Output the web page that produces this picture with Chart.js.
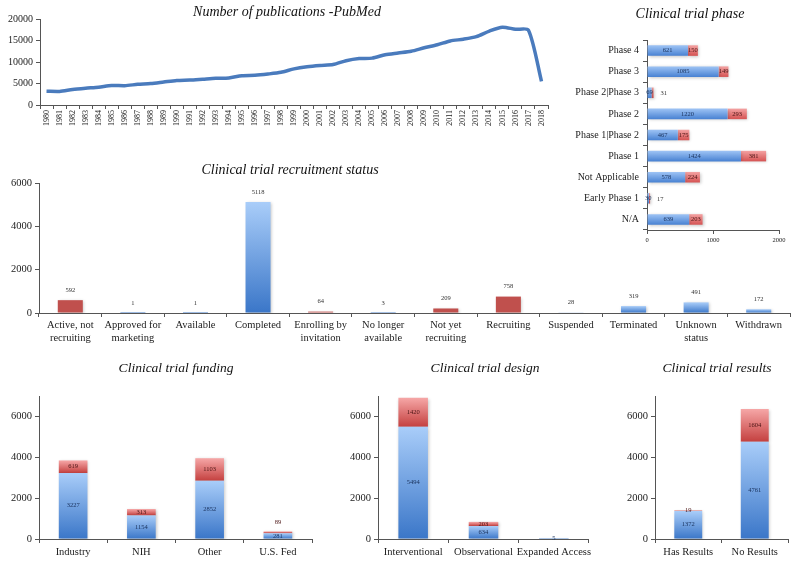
<!DOCTYPE html>
<html>
<head>
<meta charset="utf-8">
<script src="https://cdn.jsdelivr.net/npm/chart.js@4.4.0/dist/chart.umd.min.js"></script>
<style>
  html, body { margin: 0; padding: 0; background: #fff; }
  #wrap { position: relative; width: 798px; height: 565px; overflow: hidden; }
  canvas { position: absolute; }
</style>
</head>
<body>
<div id="wrap">
  <canvas id="pubs" width="560" height="135" style="left:0;top:0"></canvas>
  <canvas id="status" width="798" height="192" style="left:0;top:155px"></canvas>
  <canvas id="phase" width="233" height="250" style="left:565px;top:0"></canvas>
  <canvas id="funding" width="320" height="205" style="left:0;top:360px"></canvas>
  <canvas id="design" width="275" height="205" style="left:320px;top:360px"></canvas>
  <canvas id="results" width="203" height="205" style="left:595px;top:360px"></canvas>
</div>
<script>
// ---- data ----
const years = ['1980','1981','1982','1983','1984','1985','1986','1987','1988','1989',
  '1990','1991','1992','1993','1994','1995','1996','1997','1998','1999',
  '2000','2001','2002','2003','2004','2005','2006','2007','2008','2009',
  '2010','2011','2012','2013','2014','2015','2016','2017','2018'];
const pubCounts = [3200, 3150, 3600, 3900, 4150, 4550, 4500, 4800, 5000, 5350,
  5700, 5800, 6000, 6200, 6300, 6800, 6900, 7200, 7600, 8400,
  8900, 9200, 9400, 10300, 10800, 10900, 11700, 12100, 12500, 13300,
  14000, 14900, 15300, 15900, 17200, 18100, 17600, 17400, 5500];

const phaseLabels = ['Phase 4', 'Phase 3', 'Phase 2|Phase 3', 'Phase 2', 'Phase 1|Phase 2',
  'Phase 1', 'Not Applicable', 'Early Phase 1', 'N/A'];
const phaseBlue = [621, 1085, 69, 1220, 467, 1424, 578, 30, 639];
const phaseRed = [150, 149, 31, 293, 175, 381, 224, 17, 203];

const statusLabels = [['Active, not', 'recruiting'], ['Approved for', 'marketing'], 'Available', 'Completed',
  ['Enrolling by', 'invitation'], ['No longer', 'available'], ['Not yet', 'recruiting'], 'Recruiting',
  'Suspended', 'Terminated', ['Unknown', 'status'], 'Withdrawn'];
const statusCounts = [592, 1, 1, 5118, 64, 3, 209, 758, 28, 319, 491, 172];
const statusOngoing = [true, false, false, false, true, false, true, true, false, false, false, false];

const fundLabels = ['Industry', 'NIH', 'Other', 'U.S. Fed'];
const fundBlue = [3227, 1154, 2852, 281];
const fundRed = [619, 313, 1103, 89];

const designLabels = ['Interventional', 'Observational', 'Expanded Access'];
const designBlue = [5494, 634, 5];
const designRed = [1420, 203, 0];

const resultLabels = ['Has Results', 'No Results'];
const resultBlue = [1372, 4761];
const resultRed = [19, 1604];

// ---- helpers ----
const serif = "'Liberation Serif', 'Times New Roman', serif";
const BLUE_L = '#a9cdf9', BLUE_D = '#3a76c8';
const RED_L = '#f6a7a7', RED_D = '#c4403f';
const plain = { useGrouping: false };

const fixW = w => s => { s.width = w; };
const fixH = h => s => { s.height = h; };

// gradient for a vertical bar segment, light at the top, dark at the bottom
function vFill(light, dark) {
  return c => {
    if (c.type !== 'data') return dark;
    const chart = c.chart, y = chart.scales.y;
    let start = 0;
    if (chart.options.scales.y.stacked) {
      for (let d = 0; d < c.datasetIndex; d++) start += chart.data.datasets[d].data[c.dataIndex];
    }
    const top = y.getPixelForValue(start + c.raw), bot = y.getPixelForValue(start);
    if (!isFinite(top) || !isFinite(bot) || bot - top < 1) return dark;
    const g = chart.ctx.createLinearGradient(0, top, 0, bot);
    g.addColorStop(0, light);
    g.addColorStop(1, dark);
    return g;
  };
}

// gradient across the thickness of a horizontal bar
function hFill(light, dark) {
  return c => {
    if (c.type !== 'data') return dark;
    const y = c.chart.scales.y;
    const mid = y.getPixelForValue(c.dataIndex);
    if (!isFinite(mid)) return dark;
    const g = c.chart.ctx.createLinearGradient(0, mid - 5, 0, mid + 5);
    g.addColorStop(0, light);
    g.addColorStop(1, dark);
    return g;
  };
}

function axisCommon() {
  return {
    border: { color: '#555' },
    grid: { drawOnChartArea: false, color: '#555', tickLength: 4 }
  };
}

// italic chart heading drawn at a given spot of the canvas
const heading = {
  id: 'heading',
  afterDraw(chart, args, o) {
    if (!o || !o.text) return;
    const ctx = chart.ctx;
    ctx.save();
    ctx.font = 'italic ' + o.size + 'px ' + serif;
    ctx.fillStyle = '#111';
    ctx.textAlign = 'center';
    ctx.textBaseline = 'middle';
    ctx.fillText(o.text, o.x, o.y);
    ctx.restore();
  }
};

// soft drop shadow under bars
const shade = {
  id: 'shade',
  beforeDatasetDraw(chart, args, o) {
    if (!o || !o.on) return;
    const ctx = chart.ctx;
    ctx.save();
    ctx.shadowColor = 'rgba(0,0,0,0.22)';
    ctx.shadowBlur = 3;
    ctx.shadowOffsetX = 1;
    ctx.shadowOffsetY = 1;
  },
  afterDatasetDraw(chart, args, o) {
    if (!o || !o.on) return;
    chart.ctx.restore();
  }
};

// value labels on the bars
const barText = {
  id: 'barText',
  afterDatasetsDraw(chart, args, o) {
    if (!o || !o.mode) return;
    const ctx = chart.ctx;
    const ds = chart.data.datasets;
    ctx.save();
    ctx.font = o.size + 'px ' + serif;
    ctx.textAlign = 'center';
    ctx.textBaseline = 'middle';
    if (o.mode === 'above') {
      chart.getDatasetMeta(0).data.forEach((el, i) => {
        ctx.fillStyle = '#333';
        ctx.fillText(ds[0].data[i], el.x, el.y - 10);
      });
    } else if (o.mode === 'stack') {
      const lo = chart.getDatasetMeta(0).data, hi = chart.getDatasetMeta(1).data;
      lo.forEach((a, i) => {
        const b = hi[i];
        const ya = (a.y + a.base) / 2;
        let yb = (b.y + b.base) / 2;
        ctx.fillStyle = '#1c3560';
        ctx.fillText(ds[0].data[i], a.x, ya);
        if (ds[1].data[i]) {
          if (Math.abs(ya - yb) < 8) yb = b.y - 9;
          ctx.fillStyle = '#4a1414';
          ctx.fillText(ds[1].data[i], b.x, yb);
        }
      });
    } else if (o.mode === 'hstack') {
      const lo = chart.getDatasetMeta(0).data, hi = chart.getDatasetMeta(1).data;
      lo.forEach((a, i) => {
        const b = hi[i];
        ctx.textAlign = 'center';
        ctx.fillStyle = '#1c3560';
        ctx.fillText(ds[0].data[i], (a.x + a.base) / 2, a.y);
        const txt = String(ds[1].data[i]);
        const w = b.x - b.base;
        ctx.fillStyle = '#4a1414';
        if (w < 6) {
          ctx.textAlign = 'left';
          ctx.fillStyle = '#333';
          ctx.fillText(txt, b.x + 7, b.y + 1);
        } else {
          ctx.fillText(txt, (b.x + b.base) / 2, b.y);
        }
      });
    }
    ctx.restore();
  }
};

Chart.register(heading, shade, barText);
Chart.defaults.animation = false;
Chart.defaults.font.family = serif;
Chart.defaults.color = '#222';

const basePlugins = { legend: { display: false }, tooltip: { enabled: false } };

// ---- Number of publications (line) ----
new Chart(document.getElementById('pubs'), {
  type: 'line',
  data: {
    labels: years,
    datasets: [{
      data: pubCounts,
      borderColor: '#4a7bbd',
      borderWidth: 3.5,
      pointRadius: 0,
      tension: 0.25,
      fill: false
    }]
  },
  options: {
    responsive: false,
    layout: { padding: { top: 19, right: 12, left: 0, bottom: 0 } },
    plugins: Object.assign({}, basePlugins, {
      heading: { text: 'Number of publications -PubMed', x: 287, y: 12, size: 14 }
    }),
    scales: {
      x: Object.assign(axisCommon(), {
        offset: true,
        grid: { drawOnChartArea: false, color: '#555', tickLength: 4, offset: true },
        ticks: { font: { size: 8 }, minRotation: 90, maxRotation: 90, autoSkip: false, padding: 1 },
        afterFit: fixH(30)
      }),
      y: Object.assign(axisCommon(), {
        min: 0, max: 20000,
        ticks: { font: { size: 10 }, stepSize: 5000, format: plain, autoSkip: false },
        afterFit: fixW(40)
      })
    }
  }
});

// ---- Recruitment status ----
new Chart(document.getElementById('status'), {
  type: 'bar',
  data: {
    labels: statusLabels,
    datasets: [{
      data: statusCounts,
      backgroundColor: c => (c.type === 'data' && statusOngoing[c.dataIndex]) ? '#c0504d' : vFill(BLUE_L, BLUE_D)(c),
      barPercentage: 0.4,
      categoryPercentage: 1
    }]
  },
  options: {
    responsive: false,
    layout: { padding: { top: 28, right: 8, left: 0, bottom: 0 } },
    plugins: Object.assign({}, basePlugins, {
      heading: { text: 'Clinical trial recruitment status', x: 290, y: 15, size: 14 },
      shade: { on: true },
      barText: { mode: 'above', size: 6.5 }
    }),
    scales: {
      x: Object.assign(axisCommon(), {
        ticks: { font: { size: 10.5, lineHeight: 1.2 }, maxRotation: 0, autoSkip: false, padding: 2 },
        afterFit: fixH(34)
      }),
      y: Object.assign(axisCommon(), {
        min: 0, max: 6000,
        ticks: { font: { size: 10.5 }, stepSize: 2000, format: plain, autoSkip: false },
        afterFit: fixW(39)
      })
    }
  }
});

// ---- Clinical trial phase (horizontal stacked) ----
new Chart(document.getElementById('phase'), {
  type: 'bar',
  data: {
    labels: phaseLabels,
    datasets: [
      { data: phaseBlue, backgroundColor: hFill('#9cc2f4', '#4a83d3'), barPercentage: 0.5, categoryPercentage: 1 },
      { data: phaseRed, backgroundColor: hFill('#f3a0a0', '#d65555'), barPercentage: 0.5, categoryPercentage: 1 }
    ]
  },
  options: {
    responsive: false,
    indexAxis: 'y',
    layout: { padding: { top: 40, right: 19, left: 0, bottom: 0 } },
    plugins: Object.assign({}, basePlugins, {
      heading: { text: 'Clinical trial phase', x: 125, y: 14, size: 14 },
      shade: { on: true },
      barText: { mode: 'hstack', size: 6.5 }
    }),
    scales: {
      x: Object.assign(axisCommon(), {
        stacked: true,
        min: 0, max: 2000,
        ticks: { font: { size: 6.5 }, stepSize: 1000, padding: 2, format: plain },
        afterFit: fixH(20)
      }),
      y: Object.assign(axisCommon(), {
        stacked: true,
        ticks: { font: { size: 10 }, autoSkip: false, padding: 4 },
        afterFit: fixW(82)
      })
    }
  }
});

// ---- bottom stacked charts ----
function stacked(id, labels, lower, upper, title, titleX, yWidth, padRight) {
  new Chart(document.getElementById(id), {
    type: 'bar',
    data: {
      labels: labels,
      datasets: [
        { data: lower, backgroundColor: vFill(BLUE_L, BLUE_D), barPercentage: 0.42, categoryPercentage: 1 },
        { data: upper, backgroundColor: vFill(RED_L, RED_D), barPercentage: 0.42, categoryPercentage: 1 }
      ]
    },
    options: {
      responsive: false,
      layout: { padding: { top: 36, right: padRight, left: 0, bottom: 0 } },
      plugins: Object.assign({}, basePlugins, {
        heading: { text: title, x: titleX, y: 8, size: 13.5 },
        shade: { on: true },
        barText: { mode: 'stack', size: 6.5 }
      }),
      scales: {
        x: Object.assign(axisCommon(), {
          stacked: true,
          ticks: { font: { size: 10.5 }, maxRotation: 0, autoSkip: false, padding: 3 },
          afterFit: fixH(26)
        }),
        y: {
          stacked: true,
          min: 0, max: 7000,
          border: { color: '#555' },
          grid: {
            drawOnChartArea: false, tickLength: 4,
            tickColor: c => (c.tick && c.tick.value % 2000 === 0) ? '#555' : 'rgba(0,0,0,0)'
          },
          ticks: {
            font: { size: 10.5 }, stepSize: 1000, autoSkip: false,
            callback: v => (v % 2000 === 0 ? String(v) : '')
          },
          afterFit: fixW(yWidth)
        }
      }
    }
  });
}

stacked('funding', fundLabels, fundBlue, fundRed, 'Clinical trial funding', 176, 39, 8);
stacked('design', designLabels, designBlue, designRed, 'Clinical trial design', 165, 58, 6);
stacked('results', resultLabels, resultBlue, resultRed, 'Clinical trial results', 122, 60, 10);
</script>
</body>
</html>
